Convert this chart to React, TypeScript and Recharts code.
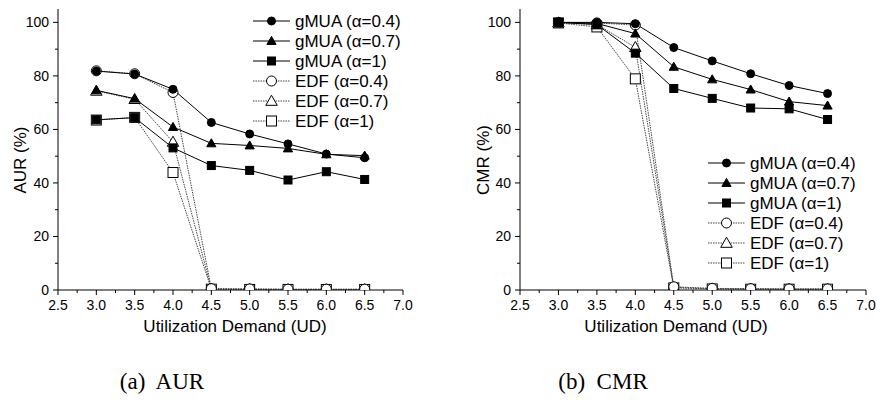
import React from "react";
import { LineChart, Line, XAxis, YAxis, Legend } from "recharts";

const UD = [3.0, 3.5, 4.0, 4.5, 5.0, 5.5, 6.0, 6.5];

// AUR panel
const AUR_GMUA_04 = [81.8, 80.7, 75.0, 62.6, 58.3, 54.6, 50.8, 49.4];
const AUR_GMUA_07 = [74.6, 71.5, 60.9, 54.8, 54.0, 52.9, 50.7, 50.2];
const AUR_GMUA_1 = [63.6, 64.4, 53.1, 46.5, 44.7, 41.1, 44.2, 41.3];
const AUR_EDF_04 = [81.9, 80.8, 73.8, 0.5, 0.4, 0.3, 0.3, 0.3];
const AUR_EDF_07 = [74.4, 71.3, 55.3, 0.4, 0.3, 0.2, 0.2, 0.2];
const AUR_EDF_1 = [63.5, 64.5, 43.9, 0.3, 0.2, 0.2, 0.2, 0.2];

// CMR panel
const CMR_GMUA_04 = [100, 100, 99.5, 90.6, 85.6, 80.8, 76.4, 73.4];
const CMR_GMUA_07 = [100, 99.6, 95.8, 83.4, 78.7, 74.9, 70.4, 68.9];
const CMR_GMUA_1 = [100, 99.2, 88.5, 75.3, 71.6, 68.0, 67.7, 63.7];
const CMR_EDF_04 = [100, 99.8, 99.0, 1.2, 0.6, 0.5, 0.4, 0.4];
const CMR_EDF_07 = [99.9, 99.2, 90.7, 1.0, 0.5, 0.4, 0.3, 0.3];
const CMR_EDF_1 = [99.8, 98.3, 78.9, 0.8, 0.4, 0.3, 0.3, 0.3];

const X_TICKS = [2.5, 2.75, 3.0, 3.25, 3.5, 3.75, 4.0, 4.25, 4.5, 4.75, 5.0, 5.25, 5.5, 5.75, 6.0, 6.25, 6.5, 6.75, 7.0];
const X_MAJOR = [2.5, 3.0, 3.5, 4.0, 4.5, 5.0, 5.5, 6.0, 6.5, 7.0];
const Y_TICKS = [0, 10, 20, 30, 40, 50, 60, 70, 80, 90, 100];
const Y_MAJOR = [0, 20, 40, 60, 80, 100];

type Shape = "circle" | "triangle" | "square";

const SERIES: { key: string; name: string; shape: Shape; filled: boolean }[] = [
  { key: "g04", name: "gMUA (\u03b1=0.4)", shape: "circle", filled: true },
  { key: "g07", name: "gMUA (\u03b1=0.7)", shape: "triangle", filled: true },
  { key: "g1", name: "gMUA (\u03b1=1)", shape: "square", filled: true },
  { key: "e04", name: "EDF (\u03b1=0.4)", shape: "circle", filled: false },
  { key: "e07", name: "EDF (\u03b1=0.7)", shape: "triangle", filled: false },
  { key: "e1", name: "EDF (\u03b1=1)", shape: "square", filled: false },
];

// edf first so the filled gMUA markers sit on top
const DRAW_ORDER = ["e1", "e07", "e04", "g1", "g07", "g04"];

const FONT = "'Liberation Sans', Arial, sans-serif";
const SERIF = "'Liberation Serif', 'Times New Roman', serif";

function buildRows(g04: number[], g07: number[], g1: number[], e04: number[], e07: number[], e1: number[]) {
  return UD.map((ud, i) => ({ ud, g04: g04[i], g07: g07[i], g1: g1[i], e04: e04[i], e07: e07[i], e1: e1[i] }));
}

const aurRows = buildRows(AUR_GMUA_04, AUR_GMUA_07, AUR_GMUA_1, AUR_EDF_04, AUR_EDF_07, AUR_EDF_1);
const cmrRows = buildRows(CMR_GMUA_04, CMR_GMUA_07, CMR_GMUA_1, CMR_EDF_04, CMR_EDF_07, CMR_EDF_1);

function Marker({ cx, cy, shape, filled }: { cx: number; cy: number; shape: Shape; filled: boolean }) {
  const fill = filled ? "#000" : "#fff";
  const s = filled ? 4 : 5;
  if (shape === "circle") {
    return <circle cx={cx} cy={cy} r={s} fill={fill} stroke="#000" strokeWidth={1} />;
  }
  if (shape === "square") {
    return <rect x={cx - s} y={cy - s} width={s * 2} height={s * 2} fill={fill} stroke="#000" strokeWidth={1} />;
  }
  const t = s * 1.15;
  return (
    <polygon
      points={`${cx},${cy - t} ${cx - t},${cy + t * 0.75} ${cx + t},${cy + t * 0.75}`}
      fill={fill}
      stroke="#000"
      strokeWidth={1}
    />
  );
}

const isMajor = (v: number, list: number[]) => list.some((m) => Math.abs(m - v) < 1e-6);

const BottomTick = (props: any) => {
  const { x, y, payload } = props;
  const major = isMajor(payload.value, X_MAJOR);
  return (
    <g>
      <line x1={x} y1={y} x2={x} y2={y + (major ? 5 : 3)} stroke="#000" />
      {major && (
        <text x={x} y={y + 20} textAnchor="middle" fontSize={14} fontFamily={FONT} fill="#000">
          {payload.value.toFixed(1)}
        </text>
      )}
    </g>
  );
};

const TopTick = (props: any) => {
  const { x, y, payload } = props;
  const major = isMajor(payload.value, X_MAJOR);
  return <line x1={x} y1={y} x2={x} y2={y + (major ? 5 : 3)} stroke="#000" />;
};

const LeftTick = (props: any) => {
  const { x, y, payload } = props;
  const major = isMajor(payload.value, Y_MAJOR);
  return (
    <g>
      <line x1={x} y1={y} x2={x - (major ? 5 : 3)} y2={y} stroke="#000" />
      {major && (
        <text x={x - 9} y={y + 5} textAnchor="end" fontSize={14} fontFamily={FONT} fill="#000">
          {payload.value}
        </text>
      )}
    </g>
  );
};

const RightTick = (props: any) => {
  const { x, y, payload } = props;
  const major = isMajor(payload.value, Y_MAJOR);
  return <line x1={x} y1={y} x2={x - (major ? 5 : 3)} y2={y} stroke="#000" />;
};

function LegendBox({ x, y }: { x: number; y: number }) {
  return (
    <svg width={430} height={345} style={{ overflow: "visible", pointerEvents: "none" }}>
      {SERIES.map((s, i) => {
        const cy = y + i * 20;
        return (
          <g key={s.key}>
            <line
              x1={x}
              y1={cy}
              x2={x + 37}
              y2={cy}
              stroke={s.filled ? "#000" : "#444"}
              strokeDasharray={s.filled ? undefined : "1.5 1"}
            />
            <Marker cx={x + 18.5} cy={cy} shape={s.shape} filled={s.filled} />
            <text x={x + 42} y={cy + 6} fontSize={17} fontFamily={FONT} fill="#000">
              {s.name}
            </text>
          </g>
        );
      })}
    </svg>
  );
}

interface PanelProps {
  left: number;
  width: number;
  rightMargin: number;
  rows: Record<string, number>[];
  yLabel: string;
  yLabelX: number;
  xTitleX: number;
  legendX: number;
  legendY: number;
}

function Panel({ left, width, rightMargin, rows, yLabel, yLabelX, xTitleX, legendX, legendY }: PanelProps) {
  return (
    <div style={{ position: "absolute", left, top: 0, width, height: 345 }}>
      <LineChart width={width} height={345} data={rows} margin={{ top: 9, right: rightMargin, bottom: 0, left: 0 }}>
        <XAxis
          dataKey="ud"
          type="number"
          domain={[2.5, 7]}
          ticks={X_TICKS}
          interval={0}
          allowDataOverflow
          height={55}
          tickSize={0}
          tickMargin={0}
          tickLine={false}
          axisLine={{ stroke: "#000" }}
          tick={<BottomTick />}
        />
        <XAxis
          xAxisId="top"
          dataKey="ud"
          type="number"
          orientation="top"
          domain={[2.5, 7]}
          ticks={X_TICKS}
          interval={0}
          allowDataOverflow
          height={0}
          tickSize={0}
          tickMargin={0}
          tickLine={false}
          axisLine={{ stroke: "#000" }}
          tick={<TopTick />}
        />
        <YAxis
          type="number"
          domain={[0, 105]}
          ticks={Y_TICKS}
          interval={0}
          allowDataOverflow
          width={58}
          tickSize={0}
          tickMargin={0}
          tickLine={false}
          axisLine={{ stroke: "#000" }}
          tick={<LeftTick />}
        />
        <YAxis
          yAxisId="right"
          type="number"
          orientation="right"
          domain={[0, 105]}
          ticks={Y_TICKS}
          interval={0}
          allowDataOverflow
          width={0}
          tickSize={0}
          tickMargin={0}
          tickLine={false}
          axisLine={{ stroke: "#000" }}
          tick={<RightTick />}
        />
        <Legend
          layout="vertical"
          align="center"
          verticalAlign="middle"
          wrapperStyle={{ left: 0, top: 0, width: 10, height: 10 }}
          content={() => <LegendBox x={legendX} y={legendY} />}
        />
        {DRAW_ORDER.map((key) => {
          const s = SERIES.find((d) => d.key === key)!;
          return (
            <Line
              key={key}
              dataKey={key}
              name={s.name}
              type="linear"
              stroke={s.filled ? "#000" : "#444"}
              strokeWidth={1}
              strokeDasharray={s.filled ? undefined : "1.5 1"}
              isAnimationActive={false}
              activeDot={false}
              dot={(p: any) => (
                <Marker key={`${key}-${p.index}`} cx={p.cx} cy={p.cy} shape={s.shape} filled={s.filled} />
              )}
            />
          );
        })}
      </LineChart>
      {/* axis titles */}
      <svg
        width={width}
        height={345}
        style={{ position: "absolute", left: 0, top: 0, pointerEvents: "none", overflow: "visible" }}
      >
        <text x={xTitleX} y={332} textAnchor="middle" fontSize={17} fontFamily={FONT} fill="#000">
          Utilization Demand (UD)
        </text>
        <text
          x={yLabelX + 6}
          y={160}
          transform={`rotate(-90 ${yLabelX + 6} 160)`}
          textAnchor="middle"
          fontSize={17}
          fontFamily={FONT}
          fill="#000"
        >
          {yLabel}
        </text>
      </svg>
    </div>
  );
}

export default function App() {
  return (
    <div
      style={{
        position: "absolute",
        left: 0,
        top: 0,
        width: 877,
        height: 411,
        background: "#fff",
        overflow: "hidden",
      }}
    >
      <Panel
        left={0}
        width={440}
        rightMargin={37}
        rows={aurRows}
        yLabel="AUR (%)"
        yLabelX={20}
        xTitleX={235}
        legendX={253}
        legendY={21}
      />
      <Panel
        left={462}
        width={415}
        rightMargin={11}
        rows={cmrRows}
        yLabel="CMR (%)"
        yLabelX={21}
        xTitleX={214}
        legendX={246}
        legendY={163}
      />
      <div
        style={{
          position: "absolute",
          left: 62,
          top: 369,
          width: 200,
          textAlign: "center",
          fontFamily: SERIF,
          fontSize: 23,
          whiteSpace: "pre",
        }}
      >
        {"(a)  AUR"}
      </div>
      <div
        style={{
          position: "absolute",
          left: 503,
          top: 369,
          width: 200,
          textAlign: "center",
          fontFamily: SERIF,
          fontSize: 23,
          whiteSpace: "pre",
        }}
      >
        {"(b)  CMR"}
      </div>
    </div>
  );
}
